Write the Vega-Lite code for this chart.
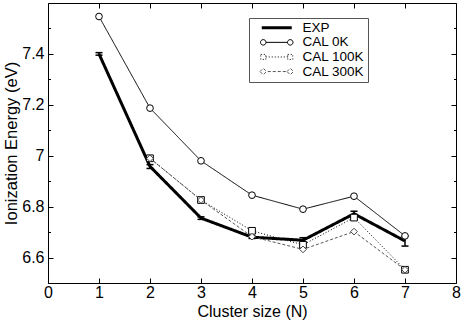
{
  "$schema": "https://vega.github.io/schema/vega-lite/v6.json",
  "width": 408,
  "height": 280,
  "autosize": {"type": "none"},
  "padding": {"left": 48, "top": 3, "right": 7, "bottom": 38},
  "background": "white",
  "config": {
    "view": {"stroke": null},
    "font": "Liberation Sans",
    "axis": {
      "grid": false,
      "domainColor": "black",
      "domainWidth": 1,
      "tickColor": "black",
      "tickWidth": 1,
      "labelColor": "black",
      "titleColor": "black",
      "labelFont": "Liberation Sans",
      "titleFont": "Liberation Sans",
      "labelFontSize": 16,
      "titleFontSize": 16.5,
      "titleFontWeight": "normal"
    }
  },
  "datasets": {
    "lines": [
      {"series": "EXP", "N": 1, "ie": 7.40},
      {"series": "EXP", "N": 2, "ie": 6.958},
      {"series": "EXP", "N": 3, "ie": 6.755},
      {"series": "EXP", "N": 4, "ie": 6.68},
      {"series": "EXP", "N": 5, "ie": 6.668},
      {"series": "EXP", "N": 6, "ie": 6.772},
      {"series": "EXP", "N": 7, "ie": 6.665},
      {"series": "CAL 0K", "N": 1, "ie": 7.547},
      {"series": "CAL 0K", "N": 2, "ie": 7.187},
      {"series": "CAL 0K", "N": 3, "ie": 6.98},
      {"series": "CAL 0K", "N": 4, "ie": 6.845},
      {"series": "CAL 0K", "N": 5, "ie": 6.79},
      {"series": "CAL 0K", "N": 6, "ie": 6.841},
      {"series": "CAL 0K", "N": 7, "ie": 6.685},
      {"series": "CAL 100K", "N": 2, "ie": 6.99},
      {"series": "CAL 100K", "N": 3, "ie": 6.826},
      {"series": "CAL 100K", "N": 4, "ie": 6.705},
      {"series": "CAL 100K", "N": 5, "ie": 6.65},
      {"series": "CAL 100K", "N": 6, "ie": 6.757},
      {"series": "CAL 100K", "N": 7, "ie": 6.552},
      {"series": "CAL 300K", "N": 2, "ie": 6.99},
      {"series": "CAL 300K", "N": 3, "ie": 6.826},
      {"series": "CAL 300K", "N": 4, "ie": 6.682},
      {"series": "CAL 300K", "N": 5, "ie": 6.632},
      {"series": "CAL 300K", "N": 6, "ie": 6.702},
      {"series": "CAL 300K", "N": 7, "ie": 6.552}
    ],
    "err": [
      {"N": 1, "lo": 7.395, "hi": 7.405},
      {"N": 2, "lo": 6.95, "hi": 6.965},
      {"N": 3, "lo": 6.75, "hi": 6.76},
      {"N": 4, "lo": 6.675, "hi": 6.685},
      {"N": 5, "lo": 6.66, "hi": 6.678},
      {"N": 6, "lo": 6.762, "hi": 6.782},
      {"N": 7, "lo": 6.645, "hi": 6.685}
    ]
  },
  "layer": [
    {
      "data": {"name": "lines"},
      "mark": {"type": "line", "interpolate": "linear"},
      "encoding": {
        "x": {
          "field": "N", "type": "quantitative",
          "scale": {"domain": [0, 8], "nice": false},
          "axis": {
            "orient": "bottom", "values": [0, 1, 2, 3, 4, 5, 6, 7, 8],
            "tickSize": -5, "labelPadding": 6, "labelFlush": false, "labelOverlap": false,
            "title": "Cluster size (N)", "titlePadding": 3, "titleFontSize": 16
          }
        },
        "y": {
          "field": "ie", "type": "quantitative",
          "scale": {"domain": [6.5, 7.6], "nice": false, "zero": false},
          "axis": {
            "orient": "left",
            "values": [6.5, 6.6, 6.7, 6.8, 6.9, 7, 7.1, 7.2, 7.3, 7.4, 7.5],
            "format": "~g",
            "labelExpr": "abs(datum.value*5 - round(datum.value*5)) < 0.001 ? datum.label : ''",
            "tickSize": {"condition": {"test": "abs(datum.value*5 - round(datum.value*5)) < 0.001", "value": -5}, "value": -2.5},
            "labelPadding": 9, "labelFlush": false, "labelOverlap": false,
            "title": "Ionization Energy (eV)", "titlePadding": 2
          }
        },
        "color": {
          "field": "series", "type": "nominal",
          "scale": {"domain": ["EXP", "CAL 0K", "CAL 100K", "CAL 300K"], "range": ["black", "black", "black", "#555555"]},
          "legend": {
            "orient": "none", "legendX": 201, "legendY": 15, "title": null,
            "symbolSize": 100, "symbolOffset": 18, "labelOffset": 19,
            "padding": 3, "rowPadding": -0.4,
            "labelFontSize": 13.5, "labelFont": "Liberation Sans", "labelColor": "black",
            "strokeColor": "#555555", "fillColor": "white",
            "labelExpr": "datum.label + '\u00a0\u00a0\u00a0\u00a0'",
            "encode": {
              "symbols": {
                "update": {
                  "shape": {"signal": "datum.value === 'EXP' ? 'M-3,0L3,0' : datum.value === 'CAL 0K' ? 'M-3.25,0A0.55,0.55,0,1,1,-2.15,0A0.55,0.55,0,1,1,-3.25,0ZM-2.15,0L2.15,0M2.15,0A0.55,0.55,0,1,1,3.25,0A0.55,0.55,0,1,1,2.15,0Z' : datum.value === 'CAL 100K' ? 'M-3.2,-0.5L-2.2,-0.5L-2.2,0.5L-3.2,0.5ZM-2.2,0L-2.0,0M-1.6,0L-1.4,0M-1.0,0L-0.8,0M-0.4,0L-0.2,0M0.2,0L0.4,0M0.8,0L1.0,0M1.4,0L1.6,0M2.0,0L2.2,0M2.2,-0.5L3.2,-0.5L3.2,0.5L2.2,0.5Z' : 'M-3.35,0L-2.7,-0.65L-2.05,0L-2.7,0.65ZM-1.8,0L-1.2,0M-0.8,0L-0.2,0M0.2,0L0.8,0M1.2,0L1.8,0M2.05,0L2.7,-0.65L3.35,0L2.7,0.65Z'"},
                  "strokeWidth": {"signal": "datum.value === 'EXP' ? 3 : 1"},
                  "strokeDash": {"value": [1, 0]},
                  "fill": {"value": "white"}
                }
              }
            }
          }
        },
        "strokeDash": {
          "field": "series", "type": "nominal",
          "scale": {"domain": ["EXP", "CAL 0K", "CAL 100K", "CAL 300K"], "range": [[1, 0], [1, 0], [1, 2], [3, 2]]},
          "legend": null
        },
        "strokeWidth": {
          "field": "series", "type": "nominal",
          "scale": {"type": "ordinal", "domain": ["EXP", "CAL 0K", "CAL 100K", "CAL 300K"], "range": [3, 1, 1, 1]},
          "legend": null
        }
      }
    },
    {
      "data": {"name": "err"},
      "mark": {"type": "rule", "strokeWidth": 1.5, "color": "black"},
      "encoding": {
        "x": {"field": "N", "type": "quantitative", "scale": {"domain": [0, 8], "nice": false}, "axis": null},
        "y": {"field": "lo", "type": "quantitative", "scale": {"domain": [6.5, 7.6], "nice": false, "zero": false}, "axis": null},
        "y2": {"field": "hi"}
      }
    },
    {
      "data": {"name": "err"},
      "mark": {"type": "tick", "orient": "horizontal", "size": 7, "thickness": 1.5, "color": "black", "opacity": 1},
      "encoding": {
        "x": {"field": "N", "type": "quantitative", "scale": {"domain": [0, 8], "nice": false}, "axis": null},
        "y": {"field": "lo", "type": "quantitative", "scale": {"domain": [6.5, 7.6], "nice": false, "zero": false}, "axis": null}
      }
    },
    {
      "data": {"name": "err"},
      "mark": {"type": "tick", "orient": "horizontal", "size": 7, "thickness": 1.5, "color": "black", "opacity": 1},
      "encoding": {
        "x": {"field": "N", "type": "quantitative", "scale": {"domain": [0, 8], "nice": false}, "axis": null},
        "y": {"field": "hi", "type": "quantitative", "scale": {"domain": [6.5, 7.6], "nice": false, "zero": false}, "axis": null}
      }
    },
    {
      "data": {"name": "lines"},
      "transform": [{"filter": "datum.series !== 'EXP'"}],
      "mark": {"type": "point", "filled": false, "fill": "white", "strokeWidth": 1, "opacity": 1, "size": 45},
      "encoding": {
        "x": {
          "field": "N", "type": "quantitative",
          "scale": {"domain": [0, 8], "nice": false},
          "axis": {"orient": "top", "values": [0, 1, 2, 3, 4, 5, 6, 7, 8], "tickSize": -5, "labels": false, "title": null}
        },
        "y": {
          "field": "ie", "type": "quantitative",
          "scale": {"domain": [6.5, 7.6], "nice": false, "zero": false},
          "axis": {
            "orient": "right",
            "values": [6.5, 6.6, 6.7, 6.8, 6.9, 7, 7.1, 7.2, 7.3, 7.4, 7.5],
            "tickSize": {"condition": {"test": "abs(datum.value*5 - round(datum.value*5)) < 0.001", "value": -5}, "value": -2.5},
            "labels": false, "title": null
          }
        },
        "shape": {
          "field": "series", "type": "nominal",
          "scale": {"domain": ["CAL 0K", "CAL 100K", "CAL 300K"], "range": ["circle", "square", "diamond"]},
          "legend": null
        },
        "stroke": {
          "field": "series", "type": "nominal",
          "scale": {"domain": ["CAL 0K", "CAL 100K", "CAL 300K"], "range": ["black", "black", "#444444"]},
          "legend": null
        }
      }
    }
  ],
  "resolve": {"axis": {"x": "independent", "y": "independent"}}
}
